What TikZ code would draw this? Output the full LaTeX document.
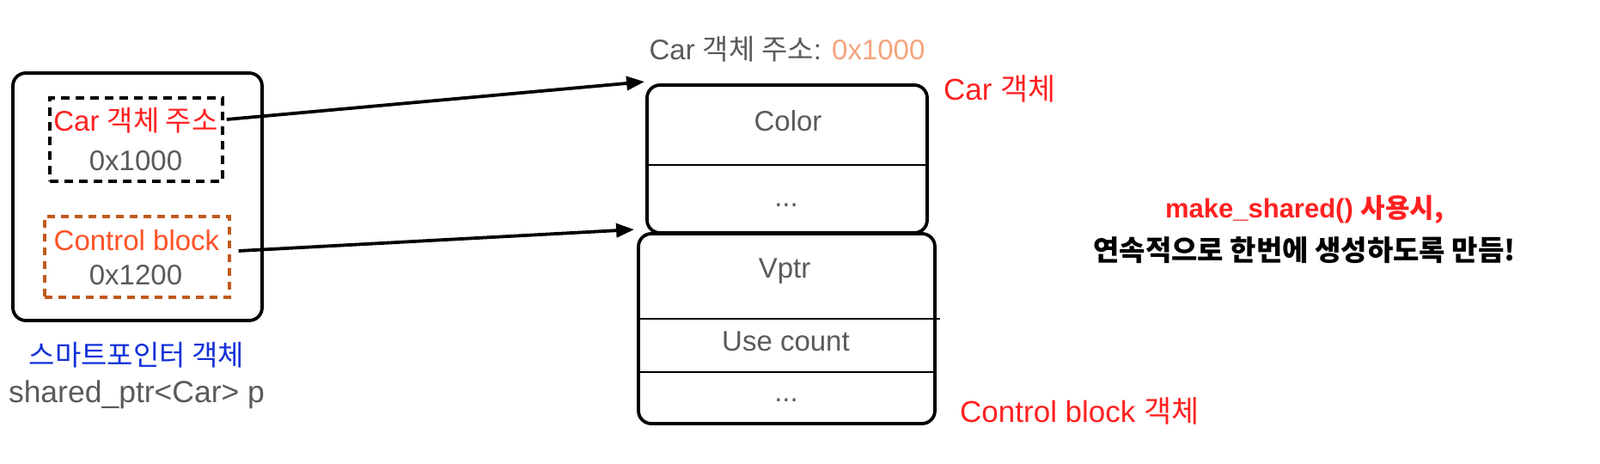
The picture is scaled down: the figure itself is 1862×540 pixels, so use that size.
\documentclass[tikz,border=0pt]{standalone}
\usepackage{fontspec}
\setmainfont{Liberation Sans}
\newfontfamily\kofont{Noto Sans CJK KR}
\newcommand{\ko}[1]{{\kofont #1}}
\usetikzlibrary{arrows.meta,decorations.pathmorphing}
\definecolor{txtgrey}{HTML}{5A5A5A}
\definecolor{kred}{HTML}{FF2020}
\definecolor{korange}{HTML}{FF5126}
\definecolor{kborder}{HTML}{C05A1C}
\definecolor{klight}{HTML}{F4A47C}
\definecolor{kblue}{HTML}{1030D8}
\begin{document}
\begin{tikzpicture}[x=1pt,y=-1pt,
  lbl/.style={inner sep=0pt, anchor=base, font=\fontsize{33}{39}\selectfont},
  biglbl/.style={lbl, font=\fontsize{35}{41}\selectfont},
  sketchbox/.style={draw=black, line width=3.8pt, rounded corners=15pt, inner sep=0pt,
    postaction={draw=black, line width=1.2pt, sharp corners, line join=round, decorate,
      decoration={random steps, segment length=2pt, amplitude=1pt}}},
  dashbox/.style={draw, line width=3.6pt, dash pattern=on 10pt off 7pt, inner sep=0pt},
  conn/.style={line width=3.8pt, -{Triangle[length=21pt,width=16pt]}},
  divider/.style={line width=2.4pt}]
\useasboundingbox (0,0) rectangle (1862,540);

% smart pointer object
\node[sketchbox, minimum width=290pt, minimum height=288pt] (sp) at (160,229) {};
\node[dashbox, draw=black, minimum width=201pt, minimum height=97pt] (ptrA) at (158.5,162.5) {};
\node[dashbox, draw=kborder, line width=3.2pt, dash pattern=on 9pt off 7pt, minimum width=215pt, minimum height=94pt] (ptrB) at (159.5,299) {};
\node[lbl, text=kred] (tA) at (158,153) {Car \ko{객체 주소}};
\node[lbl, text=txtgrey] (vA) at (158,198) {0x1000};
\node[lbl, text=korange] (tB) at (159,291) {Control block};
\node[lbl, text=txtgrey] (vB) at (158,331) {0x1200};
\node[lbl, text=kblue] (spname) at (159,425) {\ko{스마트포인터 객체}};
\node[biglbl, text=txtgrey, font=\fontsize{35.5}{41}\selectfont] (sptype) at (159,468) {shared\_ptr<Car> p};

% Car object
\node[sketchbox, minimum width=326pt, minimum height=172pt] (car) at (916,185) {};
\draw[divider] (car.west |- 0,192) -- (car.east |- 0,192);
\node[lbl, text=txtgrey] (addr) at (916,70) {Car \ko{객체 주소}: \textcolor{klight}{0x1000}};
\node[lbl, text=txtgrey] (color) at (917,153) {Color};
\node[lbl, text=txtgrey] (cdots) at (915,240) {...};
\node[biglbl, text=kred, anchor=base west] (carlbl) at (1098,117) {Car \ko{객체}};

% Control block object
\node[sketchbox, minimum width=345pt, minimum height=221pt] (ctl) at (915.5,382.5) {};
\draw[divider] (ctl.west |- 0,371) -- ([xshift=4pt]ctl.east |- 0,371);
\draw[divider] (ctl.west |- 0,433) -- (ctl.east |- 0,433);
\node[lbl, text=txtgrey] (vptr) at (913,323) {Vptr};
\node[lbl, text=txtgrey] (use) at (914.5,408) {Use count};
\node[lbl, text=txtgrey] (kdots) at (915,467) {...};
\node[biglbl, text=kred, anchor=base west] (ctllbl) at (1117,491) {Control block \ko{객체}};

% connectors
\draw[conn] ([xshift=3pt,yshift=23.5pt]ptrA.east) -- ([xshift=-1pt,yshift=2pt]car.north west);
\draw[conn] ([xshift=9pt,yshift=7pt]ptrB.east) -- ([xshift=-3pt,yshift=3pt]ctl.north west);

% note
\node[lbl, text=kred, font=\fontsize{31}{37}\selectfont\bfseries] (note1) at (1518,253) {make\_shared() \ko{사용시,}};
\node[lbl, text=black, font=\fontsize{33}{39}\selectfont\bfseries] (note2) at (1518,303) {\ko{연속적으로 한번에 생성하도록 만듬!}};
\end{tikzpicture}
\end{document}
